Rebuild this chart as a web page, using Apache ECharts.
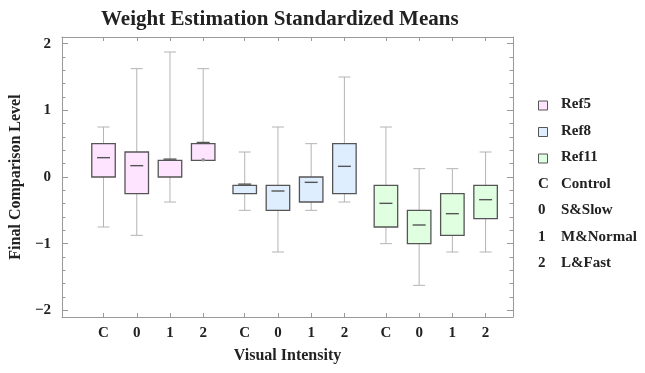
<!DOCTYPE html>
<html>
<head>
<meta charset="utf-8">
<script src="https://cdn.jsdelivr.net/npm/echarts@6/dist/echarts.min.js"></script>
<style>html,body{margin:0;padding:0;background:#fff;}#main{width:645px;height:373px;}</style>
</head>
<body>
<div id="main"></div>
<script>
// ---- data ----
const categories = ['C', '0', '1', '2'];
const categoryNames = ['Control', 'S&Slow', 'M&Normal', 'L&Fast'];
const groups = ['Ref5', 'Ref8', 'Ref11'];
// [min, Q1, median, Q3, max] per category
const ref5 = [
  [-0.75, 0, 0.29, 0.5, 0.75],
  [-0.875, -0.25, 0.17, 0.375, 1.625],
  [-0.375, 0, 0.25, 0.25, 1.875],
  [0.25, 0.25, 0.5, 0.5, 1.625]
];
const ref8 = [
  [-0.5, -0.25, -0.125, -0.125, 0.375],
  [-1.125, -0.5, -0.21, -0.125, 0.75],
  [-0.5, -0.375, -0.08, 0, 0.5],
  [-0.375, -0.25, 0.16, 0.5, 1.5]
];
const ref11 = [
  [-1, -0.75, -0.395, -0.125, 0.75],
  [-1.625, -1, -0.72, -0.5, 0.125],
  [-1.125, -0.875, -0.55, -0.25, 0.125],
  [-1.125, -0.625, -0.34, -0.125, 0.375]
];
const yTicks = [-2, -1, 0, 1, 2];
const title = 'Weight Estimation Standardized Means';
const xName = 'Visual Intensity';
const yName = 'Final Comparison Level';

// ---- styling / layout ----
const groupData = [ref5, ref8, ref11];
const fills = ['#FFE4FF', '#DEEEFF', '#E0FFE0'];
const serif = 'Liberation Serif';
const frameColor = '#9a9a9a';
const posOf = (gi, i) => 5 + gi * 17 + i * 4;
const positions = [];
groups.forEach((g, gi) => categories.forEach((c, i) => positions.push(posOf(gi, i))));
const minorTicks = [];
for (let k = -10; k <= 10; k++) { if (k % 5 !== 0) minorTicks.push(k / 5); }
const fmtNum = v => (v < 0 ? '\u2212' + Math.abs(v) : String(v));

function renderItem(params, api) {
  const x = api.value(0);
  const mn = api.value(1), q1 = api.value(2), md = api.value(3), q3 = api.value(4), mx = api.value(5);
  const pMin = api.coord([x, mn]), pQ1 = api.coord([x, q1]), pMd = api.coord([x, md]);
  const pQ3 = api.coord([x, q3]), pMx = api.coord([x, mx]);
  const cx = pMin[0];
  const boxW = 23.5, capW = 12, medW = 13;
  const wStyle = { stroke: '#b4b4b4', lineWidth: 1 };
  const children = [];
  if (mx > q3) {
    children.push({ type: 'line', shape: { x1: cx, y1: pMx[1], x2: cx, y2: pQ3[1] }, style: wStyle });
    children.push({ type: 'line', shape: { x1: cx - capW / 2, y1: pMx[1], x2: cx + capW / 2, y2: pMx[1] }, style: wStyle });
  }
  if (mn < q1) {
    children.push({ type: 'line', shape: { x1: cx, y1: pQ1[1], x2: cx, y2: pMin[1] }, style: wStyle });
    children.push({ type: 'line', shape: { x1: cx - capW / 2, y1: pMin[1], x2: cx + capW / 2, y2: pMin[1] }, style: wStyle });
  }
  children.push({
    type: 'rect',
    shape: { x: cx - boxW / 2, y: pQ3[1], width: boxW, height: pQ1[1] - pQ3[1] },
    style: { fill: api.visual('color'), stroke: '#555', lineWidth: 1.3 }
  });
  if (mn >= q1) {
    children.push({ type: 'circle', shape: { cx: cx, cy: pMin[1] - 0.5, r: 1.8 }, style: { fill: '#999' }, z2: 10 });
  }
  let my = pMd[1];
  if (md === q3) my -= 1.2;
  children.push({ type: 'line', shape: { x1: cx - medW / 2, y1: my, x2: cx + medW / 2, y2: my }, style: { stroke: '#555', lineWidth: 1.4 }, z2: 5 });
  return { type: 'group', children: children };
}

const series = groups.map((g, gi) => ({
  name: g,
  type: 'custom',
  renderItem: renderItem,
  itemStyle: { color: fills[gi] },
  encode: { x: 0, y: [1, 2, 3, 4, 5] },
  data: groupData[gi].map((v, i) => [posOf(gi, i)].concat(v)),
  clip: false
}));

const graphics = [];
const legendX = 538, legendTextX = 561, legendY0 = 105, legendStep = 26.5;
groups.forEach((g, gi) => {
  const y = legendY0 + gi * legendStep;
  graphics.push({ type: 'rect', left: legendX, top: y - 4.5, shape: { width: 9, height: 9 }, style: { fill: fills[gi], stroke: '#555', lineWidth: 1 } });
  graphics.push({ type: 'text', left: legendTextX, top: y - 8, style: { text: g, font: 'bold 15px "' + serif + '"', fill: '#222' } });
});
categories.forEach((c, i) => {
  const y = legendY0 + (groups.length + i) * legendStep;
  graphics.push({ type: 'text', left: legendX, top: y - 8, style: { text: c, font: 'bold 15px "' + serif + '"', fill: '#222' } });
  graphics.push({ type: 'text', left: legendTextX, top: y - 8, style: { text: categoryNames[i], font: 'bold 15px "' + serif + '"', fill: '#222' } });
});

const lineOn = { show: true, onZero: false, lineStyle: { color: frameColor, width: 1 } };
const lineOff = { show: false, onZero: false };
const tickStyle = { color: frameColor, width: 1 };

const option = {
  animation: false,
  backgroundColor: '#fff',
  title: {
    text: title, left: 96, top: 4,
    textStyle: { fontFamily: serif, fontWeight: 'bold', fontSize: 21, color: '#222' }
  },
  grid: { left: 62, right: 132, top: 37, bottom: 56, show: false, containLabel: false, outerBoundsMode: 'none' },
  xAxis: [
    {
      type: 'value', min: 0, max: 54.3, position: 'bottom',
      name: xName, nameLocation: 'middle', nameGap: 31,
      nameTextStyle: { fontFamily: serif, fontWeight: 'bold', fontSize: 16, color: '#222' },
      axisLine: lineOn, splitLine: { show: false },
      axisTick: { inside: true, length: 4, lineStyle: tickStyle, customValues: positions },
      axisLabel: {
        customValues: positions, margin: 9,
        fontFamily: serif, fontWeight: 'bold', fontSize: 15, color: '#222',
        formatter: v => categories[positions.indexOf(v) % categories.length]
      }
    },
    {
      type: 'value', min: 0, max: 54.3, position: 'top',
      axisLine: lineOn, splitLine: { show: false },
      axisTick: { inside: true, length: 4, lineStyle: tickStyle, customValues: positions },
      axisLabel: { show: false }
    }
  ],
  yAxis: [
    {
      type: 'value', min: -2.1, max: 2.1, position: 'left',
      name: yName, nameLocation: 'middle', nameGap: 38, nameRotate: 90,
      nameTextStyle: { fontFamily: serif, fontWeight: 'bold', fontSize: 16, color: '#222' },
      axisLine: lineOn, splitLine: { show: false },
      axisTick: { inside: true, length: 6, lineStyle: tickStyle, customValues: yTicks },
      axisLabel: {
        customValues: yTicks, margin: 11,
        fontFamily: serif, fontWeight: 'bold', fontSize: 15, color: '#222',
        formatter: fmtNum
      }
    },
    {
      type: 'value', min: -2.1, max: 2.1, position: 'left', offset: 0,
      axisLine: lineOff, splitLine: { show: false },
      axisTick: { inside: true, length: 3.5, lineStyle: tickStyle, customValues: minorTicks },
      axisLabel: { show: false }
    },
    {
      type: 'value', min: -2.1, max: 2.1, position: 'right', offset: 0,
      axisLine: lineOn, splitLine: { show: false },
      axisTick: { inside: true, length: 6, lineStyle: tickStyle, customValues: yTicks },
      axisLabel: { show: false }
    },
    {
      type: 'value', min: -2.1, max: 2.1, position: 'right', offset: 0,
      axisLine: lineOff, splitLine: { show: false },
      axisTick: { inside: true, length: 3.5, lineStyle: tickStyle, customValues: minorTicks },
      axisLabel: { show: false }
    }
  ],
  graphic: graphics,
  series: series
};

const chart = echarts.init(document.getElementById('main'), null, { renderer: 'canvas' });
chart.setOption(option);
</script>
</body>
</html>
